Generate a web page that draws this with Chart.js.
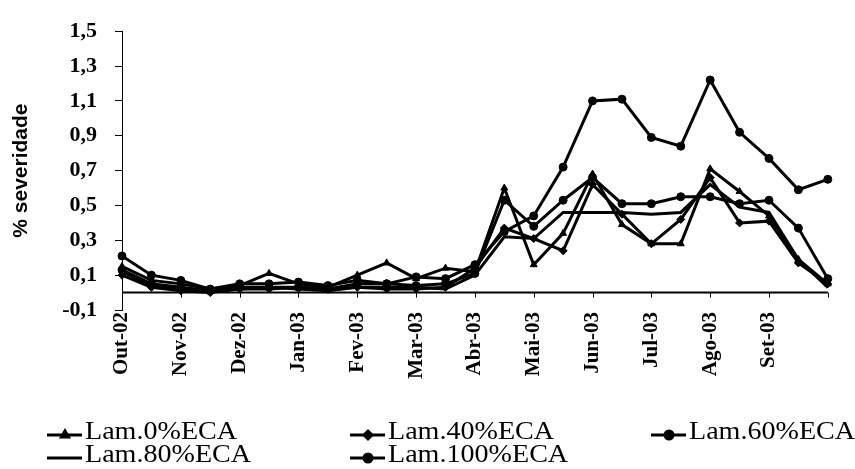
<!DOCTYPE html>
<html>
<head>
<meta charset="utf-8">
<title>% severidade</title>
<script src="https://cdn.jsdelivr.net/npm/chart.js@4.4.0/dist/chart.umd.min.js"></script>
<style>
    html,body{margin:0;padding:0;background:#ffffff;}
    canvas{display:block;}
</style>
</head>
<body>

<canvas id="severityChart" width="855" height="469"></canvas>

<script>
/* ==========================================
   DATA
========================================== */

// one point every ~2 weeks, label on every second point
const MONTH_LABELS = [
    "Out-02","","Nov-02","","Dez-02","","Jan-03","",
    "Fev-03","","Mar-03","","Abr-03","","Mai-03","",
    "Jun-03","","Jul-03","","Ago-03","","Set-03","",""
];

const SERIES_NAMES = [
    "Lam.0%ECA",
    "Lam.40%ECA",
    "Lam.60%ECA",
    "Lam.80%ECA",
    "Lam.100%ECA"
];

const LAM_0 = [0.15,0.07,0.05,0.02,0.04,0.11,0.05,0.03,0.10,0.17,0.08,0.14,0.12,0.60,0.16,0.34,0.68,0.39,0.28,0.28,0.71,0.58,0.44,0.19,0.05];

const LAM_40 = [0.10,0.03,0.01,0.00,0.02,0.02,0.03,0.02,0.03,0.02,0.02,0.03,0.14,0.37,0.31,0.24,0.62,0.45,0.28,0.42,0.66,0.40,0.41,0.17,0.05];

const LAM_60 = [0.21,0.10,0.07,0.02,0.05,0.05,0.06,0.04,0.07,0.05,0.09,0.08,0.16,0.35,0.44,0.72,1.10,1.11,0.89,0.84,1.22,0.92,0.77,0.59,0.65];

const LAM_80 = [0.12,0.04,0.02,0.01,0.02,0.03,0.02,0.01,0.03,0.03,0.03,0.02,0.10,0.32,0.31,0.46,0.46,0.46,0.45,0.46,0.62,0.49,0.46,0.19,0.03];

const LAM_100 = [0.13,0.05,0.03,0.01,0.03,0.03,0.03,0.02,0.05,0.05,0.04,0.05,0.11,0.53,0.38,0.53,0.66,0.51,0.51,0.55,0.55,0.51,0.53,0.37,0.08];

const Y_TICKS = [-0.1,0.1,0.3,0.5,0.7,0.9,1.1,1.3,1.5];

const SERIF = "'Liberation Serif','Times New Roman',serif";


/* ==========================================
   DATASETS
========================================== */

function makeSeries(label, values, pointStyle, radius){

    return {
        label,
        data: values,
        borderColor: "#000",
        backgroundColor: "#000",
        borderWidth: 3,
        pointStyle,
        pointRadius: radius,
        pointBorderWidth: 1,
        tension: 0,
        clip: false
    };

}


/* ==========================================
   ZERO LINE (category axis crosses at 0)
========================================== */

const zeroAxisPlugin = {

    id: "zeroAxis",

    beforeDatasetsDraw(chart){

        const {ctx, chartArea, scales} = chart;
        const y0 = scales.y.getPixelForValue(0);

        ctx.save();
        ctx.strokeStyle = "#000";
        ctx.lineWidth = 2;
        ctx.beginPath();
        ctx.moveTo(chartArea.left, y0);
        ctx.lineTo(chartArea.right, y0);
        ctx.stroke();

        ctx.lineWidth = 1;
        MONTH_LABELS.forEach((lab, i)=>{
            if(i % 2 !== 0 || i === 0) return;
            const x = Math.round(scales.x.getPixelForValue(i)) + 0.5;
            ctx.beginPath();
            ctx.moveTo(x, y0);
            ctx.lineTo(x, y0 + 5);
            ctx.stroke();
        });
        ctx.restore();

    }

};


/* ==========================================
   LEGEND (three columns, two rows)
========================================== */

const legendPlugin = {

    id: "columnLegend",

    afterDraw(chart){

        const ctx = chart.ctx;
        const cols = [47, 350, 651];
        const rows = [439, 462];

        chart.data.datasets.forEach((ds, i)=>{

            const x = cols[i % 3];
            const base = rows[Math.floor(i / 3)];
            const lineY = base - 4;

            ctx.save();
            ctx.strokeStyle = "#000";
            ctx.fillStyle = "#000";
            ctx.lineWidth = 3;
            ctx.beginPath();
            ctx.moveTo(x, lineY);
            ctx.lineTo(x + 35, lineY);
            ctx.stroke();

            if(ds.pointRadius > 0){
                Chart.helpers.drawPoint(ctx, {
                    pointStyle: ds.pointStyle,
                    radius: ds.pointRadius,
                    borderWidth: 1
                }, x + 18, lineY);
            }

            ctx.font = "26px " + SERIF;
            ctx.textBaseline = "alphabetic";
            ctx.translate(x + 38, base);
            ctx.scale(1.08, 1);
            ctx.fillText(ds.label, 0, 0);
            ctx.restore();

        });

    }

};


/* ==========================================
   CHART
========================================== */

const ctx = document.getElementById("severityChart").getContext("2d");

new Chart(ctx, {

    type: "line",

    data: {
        labels: MONTH_LABELS,
        datasets: [
            makeSeries(SERIES_NAMES[0], LAM_0, "triangle", 4),
            makeSeries(SERIES_NAMES[1], LAM_40, "rectRot", 4),
            makeSeries(SERIES_NAMES[2], LAM_60, "circle", 4),
            makeSeries(SERIES_NAMES[3], LAM_80, "circle", 0),
            makeSeries(SERIES_NAMES[4], LAM_100, "circle", 4)
        ]
    },

    options: {
        responsive: false,
        animation: false,
        layout: {
            padding: {top: 29, right: 15, bottom: 0, left: 0}
        },
        plugins: {
            legend: {display: false},
            tooltip: {enabled: false}
        },
        scales: {
            x: {
                type: "category",
                offset: false,
                grid: {display: false, drawTicks: false},
                border: {display: false},
                ticks: {
                    autoSkip: false,
                    maxRotation: 90,
                    minRotation: 90,
                    padding: 2,
                    color: "#000",
                    font: {family: SERIF, size: 21, weight: "bold"}
                },
                afterFit(scale){
                    scale.height = 159;
                }
            },
            y: {
                min: -0.1,
                max: 1.5,
                afterBuildTicks(scale){
                    scale.ticks = Y_TICKS.map(v=>({value: v}));
                },
                grid: {
                    drawOnChartArea: false,
                    drawTicks: true,
                    tickLength: 7,
                    color: "#000"
                },
                border: {display: true, color: "#000", width: 1},
                ticks: {
                    padding: 18,
                    color: "#000",
                    font: {family: SERIF, size: 22, weight: "bold"},
                    callback: v => v.toFixed(1).replace(".", ",")
                },
                title: {
                    display: true,
                    text: "% severidade",
                    color: "#000",
                    padding: {top: 9, bottom: 0},
                    font: {family: "'Liberation Sans', Arial, sans-serif", size: 21, weight: "bold"}
                },
                afterFit(scale){
                    scale.width = 122;
                }
            }
        }
    },

    plugins: [zeroAxisPlugin, legendPlugin]

});
</script>
</body>
</html>
